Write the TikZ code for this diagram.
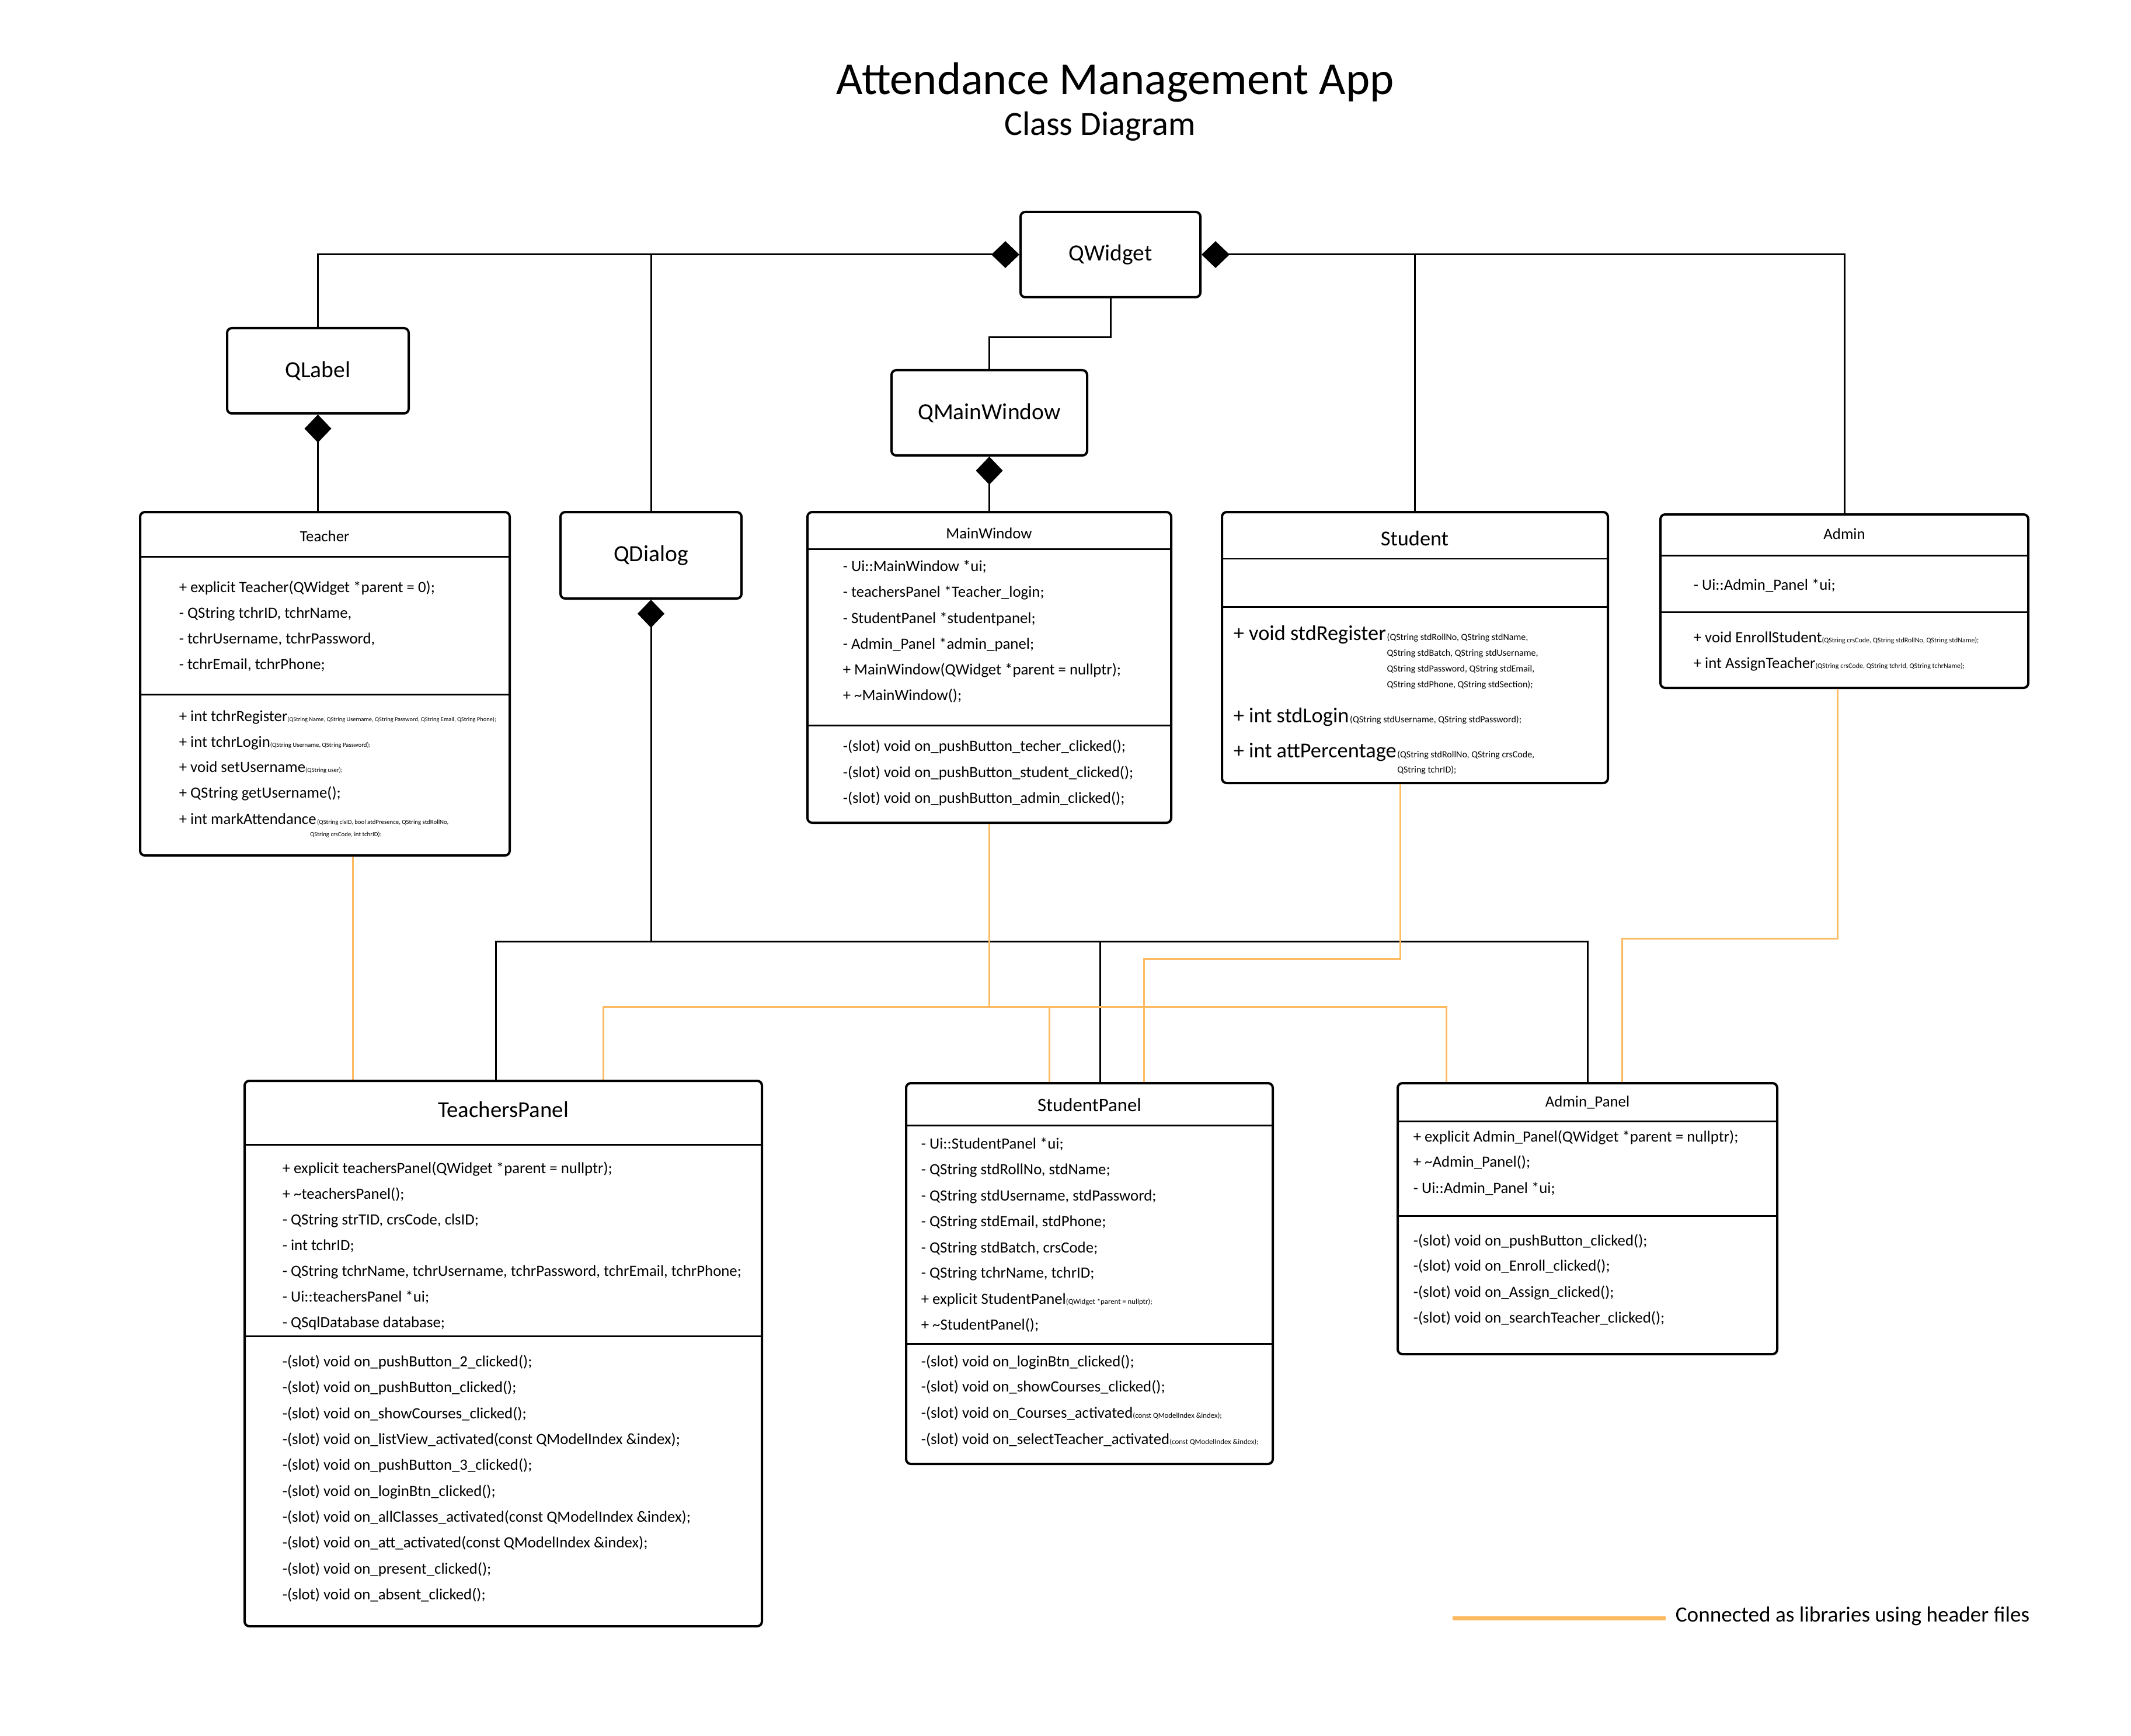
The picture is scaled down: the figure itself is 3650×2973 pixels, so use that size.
\documentclass[tikz,border=0pt]{standalone}
\usepackage{fontspec}
\setmainfont{Carlito}
\usetikzlibrary{arrows.meta,fit,calc}
\definecolor{libor}{RGB}{253,186,99}
\newcommand\fsz[1]{\fontsize{#1}{#1}\selectfont}
\begin{document}
\begin{tikzpicture}[x=0.25pt,y=-0.25pt,
  cbox/.style={draw, line width=1pt, rounded corners=2pt, inner sep=0pt},
  sepl/.style={line width=0.75pt},
  thinsep/.style={line width=0.45pt},
  conn/.style={line width=0.75pt},
  comp/.style={conn, -{Diamond[length=12pt,width=11.5pt]}},
  lib/.style={draw=libor, line width=0.75pt},
  body/.style={font=\fsz{6.7}, inner sep=0pt, anchor=base west},
  ctitle/.style={inner sep=0pt, anchor=center},
  qname/.style={font=\fsz{9.9}, inner sep=0pt, anchor=center}]

\fill[white] (0,0) rectangle (3650,2973);
\useasboundingbox (0,0) rectangle (3650,2973);

% ---------- titles
\node[font=\fsz{19.6}, inner sep=0pt, anchor=base] (title) at (1910,162) {Attendance Management App};
\node[font=\fsz{14.5}, inner sep=0pt, anchor=base] (subtitle) at (1884,232) {Class Diagram};

% ---------- Qt base classes
\node[cbox, fit={(1748,363) (2056,509)}] (QWidget) {};
\node[qname] (QWidgetT) at (QWidget.center) {QWidget};
\node[cbox, fit={(389,562) (700,708)}] (QLabel) {};
\node[qname] (QLabelT) at (QLabel.center) {QLabel};
\node[cbox, fit={(1527,634) (1862,780)}] (QMW) {};
\node[qname] (QMWT) at (QMW.center) {QMainWindow};
\node[cbox, fit={(960,877) (1270,1025)}] (QDialog) {};
\node[qname] (QDialogT) at (QDialog.center) {QDialog};

% ---------- Teacher
\node[cbox, fit={(240,877) (873,1465)}] (Teacher) {};
\node[ctitle, font=\fsz{6.7}] (TeacherT) at (556,918) {Teacher};
\draw[sepl] (Teacher.west |- 0,953) -- (Teacher.east |- 0,953);
\draw[sepl] (Teacher.west |- 0,1189) -- (Teacher.east |- 0,1189);
\node[body] (te1) at (306,1014) {+ explicit Teacher(QWidget *parent = 0);};
\node[body] (te2) at (306,1058) {- QString tchrID, tchrName,};
\node[body] (te3) at (306,1102) {- tchrUsername, tchrPassword,};
\node[body] (te4) at (306,1146) {- tchrEmail, tchrPhone;};
\node[body] (te5) at (306,1235) {+ int tchrRegister{\fsz{2.6}(QString Name, QString Username, QString Password, QString Email, QString Phone);}};
\node[body] (te6) at (306,1279) {+ int tchrLogin{\fsz{2.7}(QString Username, QString Password);}};
\node[body] (te7) at (306,1322) {+ void setUsername{\fsz{2.7}(QString user);}};
\node[body] (te8) at (306,1366) {+ QString getUsername();};
\node[body] (te9) at (306,1411) {+ int markAttendance};
\node[body, font=\fsz{2.7}] (te9a) at (te9.base east) {(QString clsID, bool atdPresence, QString stdRollNo,};
\node[body, font=\fsz{2.7}] (te9b) at ([xshift=-3pt,yshift=-5.25pt]te9.base east) {QString crsCode, int tchrID);};

% ---------- MainWindow
\node[cbox, fit={(1383,877) (2006,1409)}] (MW) {};
\node[ctitle, font=\fsz{6.7}] (MWT) at (1694,913) {MainWindow};
\draw[sepl] (MW.west |- 0,940) -- (MW.east |- 0,940);
\draw[sepl] (MW.west |- 0,1242) -- (MW.east |- 0,1242);
\node[body] (mw1) at (1443,978) {- Ui::MainWindow *ui;};
\node[body] (mw2) at (1443,1022) {- teachersPanel *Teacher\_login;};
\node[body] (mw3) at (1443,1067) {- StudentPanel *studentpanel;};
\node[body] (mw4) at (1443,1111) {- Admin\_Panel *admin\_panel;};
\node[body] (mw5) at (1443,1155) {+ MainWindow(QWidget *parent = nullptr);};
\node[body] (mw6) at (1443,1199) {+ \textasciitilde MainWindow();};
\node[body] (mw7) at (1443,1286) {-(slot) void on\_pushButton\_techer\_clicked();};
\node[body] (mw8) at (1443,1331) {-(slot) void on\_pushButton\_student\_clicked();};
\node[body] (mw9) at (1443,1375) {-(slot) void on\_pushButton\_admin\_clicked();};

% ---------- Student
\node[cbox, fit={(2093,877) (2754,1341)}] (Student) {};
\node[ctitle, font=\fsz{9.1}] (StudentT) at (2423,922) {Student};
\draw[thinsep] (Student.west |- 0,957) -- (Student.east |- 0,957);
\draw[sepl] (Student.west |- 0,1039) -- (Student.east |- 0,1039);
\node[body, font=\fsz{9.1}] (st1) at (2112,1096) {+ void stdRegister};
\node[body, font=\fsz{4.0}] (st1a) at (st1.base east) {(QString stdRollNo, QString stdName,};
\node[body, font=\fsz{4.0}] (st1b) at ([yshift=-6.75pt]st1a.base west) {QString stdBatch, QString stdUsername,};
\node[body, font=\fsz{4.0}] (st1c) at ([yshift=-6.75pt]st1b.base west) {QString stdPassword, QString stdEmail,};
\node[body, font=\fsz{4.0}] (st1d) at ([yshift=-6.75pt]st1c.base west) {QString stdPhone, QString stdSection);};
\node[body, font=\fsz{9.1}] (st2) at (2112,1237) {+ int stdLogin};
\node[body, font=\fsz{4.0}] (st2a) at (st2.base east) {(QString stdUsername, QString stdPassword);};
\node[body, font=\fsz{9.1}] (st3) at (2112,1297) {+ int attPercentage};
\node[body, font=\fsz{4.0}] (st3a) at (st3.base east) {(QString stdRollNo, QString crsCode,};
\node[body, font=\fsz{4.0}] (st3b) at ([yshift=-6.5pt]st3a.base west) {QString tchrID);};

% ---------- Admin
\node[cbox, fit={(2844,881) (3474,1178)}] (Admin) {};
\node[ctitle, font=\fsz{6.7}] (AdminT) at (3159,914) {Admin};
\draw[sepl] (Admin.west |- 0,951) -- (Admin.east |- 0,951);
\draw[sepl] (Admin.west |- 0,1048) -- (Admin.east |- 0,1048);
\node[body] (ad1) at (2900,1010) {- Ui::Admin\_Panel *ui;};
\node[body] (ad2) at (2900,1100) {+ void EnrollStudent{\fsz{3.0}(QString crsCode, QString stdRollNo, QString stdName);}};
\node[body] (ad3) at (2900,1144) {+ int AssignTeacher{\fsz{3.0}(QString crsCode, QString tchrId, QString tchrName);}};

% ---------- TeachersPanel
\node[cbox, fit={(419,1851) (1305,2785)}] (TP) {};
\node[ctitle, font=\fsz{9.7}] (TPT) at (862,1900) {TeachersPanel};
\draw[sepl] (TP.west |- 0,1960) -- (TP.east |- 0,1960);
\draw[sepl] (TP.west |- 0,2288) -- (TP.east |- 0,2288);
\node[body] (tp1) at (483,2009) {+ explicit teachersPanel(QWidget *parent = nullptr);};
\node[body] (tp2) at (483,2053) {+ \textasciitilde teachersPanel();};
\node[body] (tp3) at (483,2097) {- QString strTID, crsCode, clsID;};
\node[body] (tp4) at (483,2141) {- int tchrID;};
\node[body] (tp5) at (483,2185) {- QString tchrName, tchrUsername, tchrPassword, tchrEmail, tchrPhone;};
\node[body] (tp6) at (483,2229) {- Ui::teachersPanel *ui;};
\node[body] (tp7) at (483,2273) {- QSqlDatabase database;};
\node[body] (tp8) at (483,2340) {-(slot) void on\_pushButton\_2\_clicked();};
\node[body] (tp9) at (483,2384) {-(slot) void on\_pushButton\_clicked();};
\node[body] (tp10) at (483,2429) {-(slot) void on\_showCourses\_clicked();};
\node[body] (tp11) at (483,2473) {-(slot) void on\_listView\_activated(const QModelIndex \&index);};
\node[body] (tp12) at (483,2517) {-(slot) void on\_pushButton\_3\_clicked();};
\node[body] (tp13) at (483,2562) {-(slot) void on\_loginBtn\_clicked();};
\node[body] (tp14) at (483,2606) {-(slot) void on\_allClasses\_activated(const QModelIndex \&index);};
\node[body] (tp15) at (483,2650) {-(slot) void on\_att\_activated(const QModelIndex \&index);};
\node[body] (tp16) at (483,2695) {-(slot) void on\_present\_clicked();};
\node[body] (tp17) at (483,2739) {-(slot) void on\_absent\_clicked();};

% ---------- StudentPanel
\node[cbox, fit={(1552,1855) (2180,2507)}] (SP) {};
\node[ctitle, font=\fsz{8.2}] (SPT) at (1866,1892) {StudentPanel};
\draw[sepl] (SP.west |- 0,1927) -- (SP.east |- 0,1927);
\draw[sepl] (SP.west |- 0,2301) -- (SP.east |- 0,2301);
\node[body] (sp1) at (1577,1967) {- Ui::StudentPanel *ui;};
\node[body] (sp2) at (1577,2011) {- QString stdRollNo, stdName;};
\node[body] (sp3) at (1577,2056) {- QString stdUsername, stdPassword;};
\node[body] (sp4) at (1577,2100) {- QString stdEmail, stdPhone;};
\node[body] (sp5) at (1577,2145) {- QString stdBatch, crsCode;};
\node[body] (sp6) at (1577,2188) {- QString tchrName, tchrID;};
\node[body] (sp7) at (1577,2233) {+ explicit StudentPanel{\fsz{3.2}(QWidget *parent = nullptr);}};
\node[body] (sp8) at (1577,2277) {+ \textasciitilde StudentPanel();};
\node[body] (sp9) at (1577,2340) {-(slot) void on\_loginBtn\_clicked();};
\node[body] (sp10) at (1577,2383) {-(slot) void on\_showCourses\_clicked();};
\node[body] (sp11) at (1577,2428) {-(slot) void on\_Courses\_activated{\fsz{3.2}(const QModelIndex \&index);}};
\node[body] (sp12) at (1577,2473) {-(slot) void on\_selectTeacher\_activated{\fsz{3.2}(const QModelIndex \&index);}};

% ---------- Admin_Panel
\node[cbox, fit={(2394,1855) (3044,2319)}] (AP) {};
\node[ctitle, font=\fsz{6.7}] (APT) at (2719,1888) {Admin\_Panel};
\draw[sepl] (AP.west |- 0,1920) -- (AP.east |- 0,1920);
\draw[sepl] (AP.west |- 0,2082) -- (AP.east |- 0,2082);
\node[body] (ap1) at (2420,1955) {+ explicit Admin\_Panel(QWidget *parent = nullptr);};
\node[body] (ap2) at (2420,1998) {+ \textasciitilde Admin\_Panel();};
\node[body] (ap3) at (2420,2043) {- Ui::Admin\_Panel *ui;};
\node[body] (ap4) at (2420,2133) {-(slot) void on\_pushButton\_clicked();};
\node[body] (ap5) at (2420,2176) {-(slot) void on\_Enroll\_clicked();};
\node[body] (ap6) at (2420,2221) {-(slot) void on\_Assign\_clicked();};
\node[body] (ap7) at (2420,2265) {-(slot) void on\_searchTeacher\_clicked();};

% ---------- black composition connectors
\draw[comp] (QLabel.north) |- (QWidget.west);
\draw[conn] (QDialog.north) -- (QDialog.north |- QWidget.west);
\draw[comp] (Admin.north) |- (QWidget.east);
\draw[conn] (Student.north) -- (Student.north |- QWidget.east);
\draw[conn] (QWidget.south) -- ++(0,67) -| (QMW.north);
\draw[comp] (QLabel.south |- Teacher.north) -- (QLabel.south);
\draw[comp] (QMW.south |- MW.north) -- (QMW.south);

\coordinate (J) at ($(QDialog.south)+(0,585)$);
\coordinate (tpB) at ($(TP.north)+(-13,0)$);
\coordinate (spB) at ($(SP.north)+(18,0)$);
\draw[comp] (J) -- (QDialog.south);
\draw[conn] (J) -| (tpB);
\draw[conn] (J) -| (AP.north);
\draw[conn] (spB) -- (spB |- J);

% ---------- orange header-file connectors
\coordinate (tOut) at ($(Teacher.south)+(48,0)$);
\coordinate (hub) at ($(MW.south)+(0,313)$);
\coordinate (tpO) at ($(TP.north)+(171,0)$);
\coordinate (spO) at ($(SP.north)+(-69,0)$);
\coordinate (apO) at ($(AP.north)+(-242,0)$);
\coordinate (sOut) at ($(Student.south)+(-25,0)$);
\coordinate (sHub) at ($(sOut)+(0,299)$);
\coordinate (spO2) at ($(SP.north)+(93,0)$);
\coordinate (aOut) at ($(Admin.south)+(-12,0)$);
\coordinate (aHub) at ($(aOut)+(0,427)$);
\coordinate (apO2) at ($(AP.north)+(59,0)$);
\draw[lib] (tOut) -- (tOut |- TP.north);
\draw[lib] (MW.south) -- (hub);
\draw[lib] (hub) -| (tpO);
\draw[lib] (hub) -| (spO);
\draw[lib] (hub) -| (apO);
\draw[lib] (sOut) -- (sHub) -| (spO2);
\draw[lib] (aOut) -- (aHub) -| (apO2);

% ---------- legend
\node[font=\fsz{9.3}, inner sep=0pt, anchor=west] (legendT) at (2869,2768) {Connected as libraries using header files};
\coordinate (lg1) at (2488,2771);
\draw[draw=libor, line width=1.75pt] (lg1) -- (lg1 -| 2853,0);
\end{tikzpicture}
\end{document}
